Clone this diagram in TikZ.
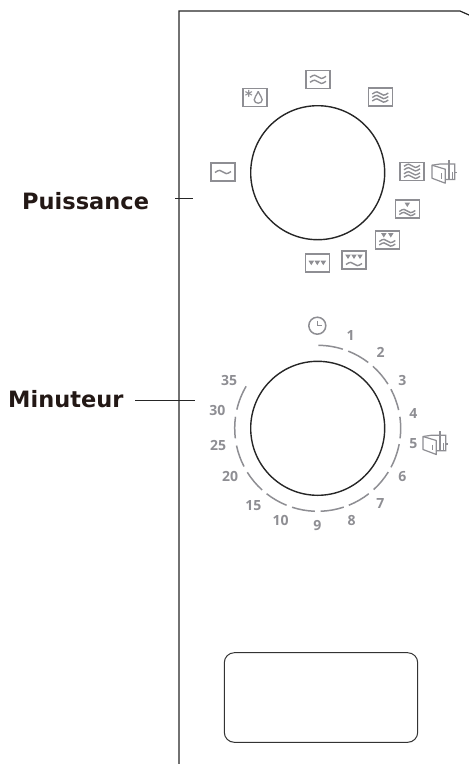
\documentclass[tikz,border=0pt]{standalone}
\usepackage{fontspec}
\usetikzlibrary{calc}
\setmainfont{DejaVu Sans}
\newfontfamily\dialfont{Open Sans}
\definecolor{icongray}{HTML}{8E8E93}
\definecolor{captionink}{HTML}{231815}
\tikzset{
  iconbox/.style={draw=icongray,line width=1.6pt,minimum width=24pt,minimum height=18pt,inner sep=0pt},
  knob/.style={circle,draw=black!85,line width=1.4pt,minimum size=134pt,inner sep=0pt},
  dialnum/.style={text=icongray,font=\dialfont\bfseries\fontsize{14}{14}\selectfont,inner sep=0pt},
  caption/.style={font=\bfseries\fontsize{22.5}{22.5}\selectfont,text=captionink,inner sep=0pt},
  pics/waves/.style={code={
    \foreach \wy in {#1}
      \draw[icongray,line width=1.4pt,shift={(0,\wy)}] (-8,0.5) .. controls (-4,-2.5) and (-2,-2) .. (0,0) .. controls (2,2) and (4,2.5) .. (8,-0.5);
  }},
  pics/tris/.style={code={
    \foreach \tx/\ty in {#1}
      \fill[icongray,shift={(\tx,\ty)}] (-2.8,-2) -- (2.8,-2) -- (0,2.5) -- cycle;
  }},
  pics/dooricon/.style={code={
    \draw[icongray,line width=1.2pt,line join=round] (-12,-7.5) -- (1.3,-3.5) -- (1.3,10.5) -- (-12,5.5) -- cycle;
    \draw[icongray,line width=1.2pt] (-12,-7.5) -- (-4,-8.7) -- (10.7,-8.7) -- (10.7,6.7) -- (1.3,6.7);
    \draw[icongray,line width=1.2pt] (5,-12.7) -- (5,6.7);
    \draw[icongray,line width=1.2pt] (-2.5,0.5) -- (-2.5,6);
    \draw[icongray,line width=1.2pt] (8.5,-1) -- (8.5,6.7);
    \draw[icongray,line width=1.2pt] (10.7,0) -- (12.5,0);
  }}
}
\begin{document}
\begin{tikzpicture}[x=1pt,y=-1pt]
\useasboundingbox (0,0) rectangle (469,764);
% panel outline
\coordinate (panelbot) at (179,764);
\coordinate (paneltop) at (179,11);
\coordinate (panelcorner) at (460,11);
\coordinate (panelend) at (469,15);
\draw[black!85,line width=1.2pt] (panelbot) -- (paneltop) -- (panelcorner) -- (panelend);
% labels
\node[caption,anchor=base west] (puissance) at (22,209) {Puissance};
\node[caption,anchor=base west] (minuteur) at (8,407.3) {Minuteur};
\coordinate (tickPa) at (175,198.3);
\coordinate (tickPb) at (193,198.3);
\coordinate (tickMa) at (135,400.7);
\coordinate (tickMb) at (195,400.7);
\draw[black!85,line width=0.9pt] (tickPa) -- (tickPb);
\draw[black!85,line width=0.9pt] (tickMa) -- (tickMb);
% power knob
\node[knob] (knobpower) at (317.7,172.7) {};
\node[iconbox] (iconA) at (223,172) {};
\node[iconbox] (iconB) at (254.7,97.3) {};
\node[iconbox] (iconC) at (318,79.3) {};
\node[iconbox] (iconD) at (380.3,97) {};
\node[iconbox] (iconE) at (412,171.3) {};
\node[iconbox] (iconF) at (407.3,209) {};
\node[iconbox] (iconG) at (387.3,240) {};
\node[iconbox] (iconH) at (354,260) {};
\node[iconbox] (iconI) at (317.3,262.7) {};
\pic at (iconA) {waves={0}};
\node[text=icongray,font=\bfseries\fontsize{15}{15}\selectfont,inner sep=0pt] (star) at ($(iconB)+(-6,-1)$) {*};
\draw[icongray,line width=1.3pt] ($(iconB)+(3.5,-6)$) .. controls ($(iconB)+(2,-2)$) and ($(iconB)+(-0.5,0)$) .. ($(iconB)+(-0.5,2.5)$) .. controls ($(iconB)+(-0.5,7)$) and ($(iconB)+(7.5,7)$) .. ($(iconB)+(7.5,2.5)$) .. controls ($(iconB)+(7.5,0)$) and ($(iconB)+(5,-2)$) .. ($(iconB)+(3.5,-6)$);
\pic at (iconC) {waves={-2.5,2.5}};
\pic at (iconD) {waves={-3.5,0,3.5}};
\pic at (iconE) {waves={-5.5,-2,2,5.5}};
\pic at (iconF) {waves={2,5}};
\pic at (iconF) {tris={0/-4.5}};
\pic at (iconG) {waves={1,4.5}};
\pic at (iconG) {tris={-3.5/-5,3.5/-5}};
\pic at (iconH) {waves={4}};
\pic at (iconH) {tris={-6/-3.5,0/-3.5,6/-3.5}};
\pic at (iconI) {tris={-6/0,0/0,6/0}};
\coordinate (doorA) at (444,172.7);
\pic at (doorA) {dooricon};
% timer knob
\node[knob] (knobtimer) at (317.7,428.3) {};
\foreach \arcfrom/\arcto in {-89.5/-72.4,-68.4/-52.5,-48.3/-32.2,-28.1/-12.7,-8/7,11/28,31.8/47.6,52/68,71.7/88,92/108,112/128,132/148,152.6/168,173/188,193/210.4}
  \draw[icongray,line width=1.5pt] ($(knobtimer)+(\arcfrom:83)$) arc[start angle=\arcfrom,end angle=\arcto,radius=83];
\node[dialnum] (numA) at (350.7,335) {1};
\node[dialnum] (numB) at (380.7,352.7) {2};
\node[dialnum] (numC) at (402.3,380) {3};
\node[dialnum] (numD) at (413.3,413.3) {4};
\node[dialnum] (numE) at (413.3,444) {5};
\node[dialnum] (numF) at (402.3,476.7) {6};
\node[dialnum] (numG) at (380.3,503.3) {7};
\node[dialnum] (numH) at (351.7,520) {8};
\node[dialnum] (numI) at (317.3,526) {9};
\node[dialnum] (numJ) at (280.7,520) {10};
\node[dialnum] (numK) at (253.3,505.3) {15};
\node[dialnum] (numL) at (230,476.3) {20};
\node[dialnum] (numM) at (218,445) {25};
\node[dialnum] (numN) at (217.3,410.3) {30};
\node[dialnum] (numO) at (229,380) {35};
\node[circle,draw=icongray,line width=1.5pt,minimum size=17pt,inner sep=0pt] (clock) at (317.3,325.7) {};
\draw[icongray,line width=1.3pt] ($(clock)+(0,-5)$) -- (clock.center) -- ($(clock)+(4.5,0)$);
\coordinate (doorB) at (435,444);
\pic at (doorB) {dooricon};
% display window
\node[draw=black!80,line width=1pt,rounded corners=10pt,minimum width=193.4pt,minimum height=89.6pt,inner sep=0pt] (display) at (321,697.5) {};
\end{tikzpicture}
\end{document}
